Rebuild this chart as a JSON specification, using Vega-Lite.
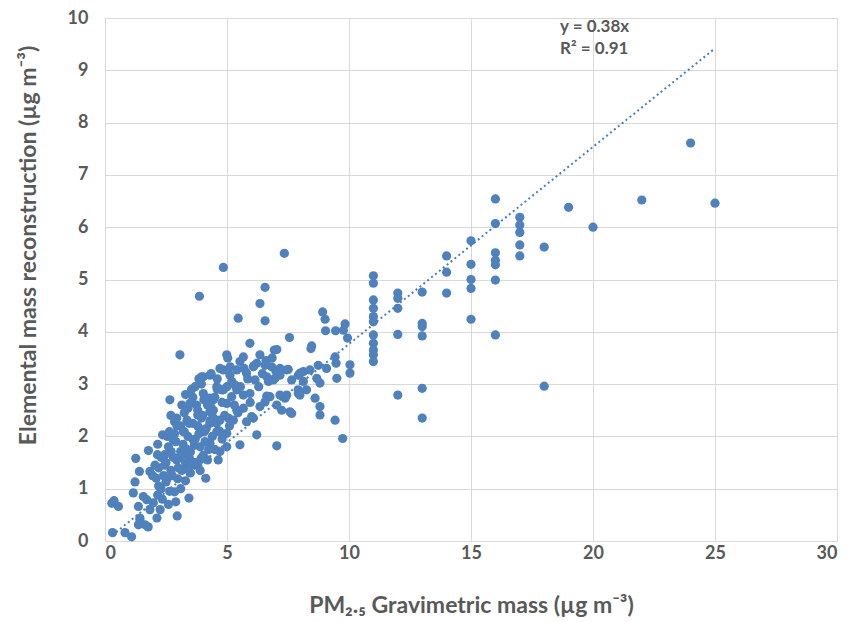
{
  "$schema": "https://vega.github.io/schema/vega-lite/v6.json",
  "width": 732,
  "height": 523,
  "autosize": {"type": "none"},
  "padding": {"left": 105, "top": 18, "right": 15, "bottom": 81},
  "background": "white",
  "config": {"view": {"stroke": "#d9d9d9", "strokeWidth": 1}, "font": "Lato"},
  "datasets": {
    "pts": [
      {"pm":0.31,"em":0.16},{"pm":0.37,"em":0.77},{"pm":0.28,"em":0.72},{"pm":0.55,"em":0.66},{"pm":0.82,"em":0.16},{"pm":1.09,"em":0.08},
      {"pm":1.16,"em":0.92},{"pm":1.23,"em":1.13},{"pm":1.26,"em":1.58},{"pm":1.41,"em":1.33},{"pm":1.43,"em":0.40},{"pm":1.37,"em":0.31},
      {"pm":1.57,"em":0.85},{"pm":1.37,"em":0.66},{"pm":1.71,"em":0.79},{"pm":1.78,"em":1.73},{"pm":1.77,"em":0.27},{"pm":1.84,"em":1.33},
      {"pm":1.98,"em":0.73},{"pm":2.26,"em":0.60},{"pm":2.13,"em":0.44},{"pm":1.43,"em":0.44},{"pm":1.64,"em":0.31},{"pm":1.84,"em":0.60},
      {"pm":2.16,"em":0.88},{"pm":2.16,"em":1.85},{"pm":2.36,"em":2.03},{"pm":2.66,"em":2.70},{"pm":2.96,"em":0.48},{"pm":3.44,"em":0.82},
      {"pm":4.13,"em":1.20},{"pm":2.30,"em":1.00},{"pm":2.50,"em":1.13},{"pm":2.85,"em":0.94},{"pm":2.98,"em":1.19},{"pm":2.44,"em":1.45},
      {"pm":2.71,"em":1.71},{"pm":2.64,"em":2.09},{"pm":2.85,"em":2.28},{"pm":3.40,"em":2.54},{"pm":3.80,"em":2.41},{"pm":3.25,"em":2.09},
      {"pm":3.66,"em":1.83},{"pm":4.07,"em":2.09},{"pm":3.46,"em":1.58},{"pm":3.94,"em":1.58},{"pm":3.25,"em":1.38},{"pm":3.80,"em":1.45},
      {"pm":3.10,"em":1.71},
      {"pm":3.07,"em":3.56},{"pm":5.94,"em":3.78},{"pm":4.99,"em":3.56},{"pm":5.13,"em":3.33},{"pm":5.53,"em":3.43},{"pm":6.08,"em":3.33},
      {"pm":4.85,"em":3.27},{"pm":4.03,"em":3.14},{"pm":4.30,"em":3.17},{"pm":3.69,"em":2.95},{"pm":4.78,"em":2.89},{"pm":5.33,"em":2.98},
      {"pm":5.19,"em":2.76},{"pm":5.94,"em":2.82},{"pm":5.67,"em":2.54},{"pm":5.40,"em":2.50},{"pm":6.08,"em":2.35},{"pm":4.03,"em":2.82},
      {"pm":3.48,"em":2.63},{"pm":4.44,"em":2.70},{"pm":3.80,"em":2.50},{"pm":4.30,"em":2.47},{"pm":3.36,"em":2.31},{"pm":2.94,"em":2.35},
      {"pm":5.06,"em":2.35},{"pm":4.58,"em":2.25},{"pm":4.03,"em":2.12},{"pm":3.21,"em":2.09},{"pm":4.85,"em":2.03},{"pm":2.80,"em":1.93},
      {"pm":3.62,"em":1.93},{"pm":4.30,"em":1.87},{"pm":4.99,"em":1.80},{"pm":5.53,"em":1.84},{"pm":3.21,"em":1.67},{"pm":4.03,"em":1.64},
      {"pm":4.64,"em":1.55},{"pm":2.94,"em":1.55},{"pm":3.62,"em":1.49},{"pm":4.71,"em":1.71},
      {"pm":5.46,"em":4.26},{"pm":6.56,"em":4.21},{"pm":7.56,"em":3.89},{"pm":6.94,"em":3.65},{"pm":8.47,"em":3.73},{"pm":5.67,"em":3.52},
      {"pm":6.35,"em":3.56},{"pm":6.56,"em":3.36},{"pm":6.83,"em":3.33},{"pm":6.22,"em":3.40},{"pm":5.40,"em":3.27},{"pm":4.71,"em":3.30},
      {"pm":7.45,"em":3.27},{"pm":8.00,"em":3.21},{"pm":8.40,"em":3.27},{"pm":7.17,"em":3.17},{"pm":5.12,"em":3.17},{"pm":5.80,"em":3.21},
      {"pm":6.15,"em":3.08},{"pm":6.90,"em":3.08},{"pm":7.65,"em":3.08},{"pm":8.13,"em":3.05},{"pm":8.74,"em":3.36},{"pm":8.81,"em":3.02},
      {"pm":4.58,"em":2.95},{"pm":5.40,"em":2.89},{"pm":4.85,"em":2.89},{"pm":5.67,"em":2.79},{"pm":7.92,"em":2.89},{"pm":8.26,"em":2.89},
      {"pm":7.99,"em":2.79},{"pm":6.76,"em":2.76},{"pm":7.17,"em":2.79},{"pm":7.38,"em":2.73},{"pm":6.56,"em":2.66},{"pm":6.35,"em":2.57},
      {"pm":7.04,"em":2.60},{"pm":6.01,"em":2.38},{"pm":7.58,"em":2.47},{"pm":4.99,"em":2.63},{"pm":4.30,"em":2.73},{"pm":4.44,"em":2.50},
      {"pm":5.26,"em":2.31},{"pm":4.71,"em":2.31},{"pm":5.80,"em":2.28},{"pm":4.30,"em":2.25},{"pm":4.99,"em":2.06},{"pm":6.22,"em":2.03},
      {"pm":4.58,"em":2.09},
      {"pm":7.35,"em":5.50},{"pm":4.85,"em":5.23},{"pm":6.56,"em":4.85},{"pm":3.87,"em":4.68},{"pm":6.35,"em":4.54},{"pm":8.92,"em":4.38},
      {"pm":9.02,"em":4.24},{"pm":9.04,"em":4.02},{"pm":9.45,"em":4.02},{"pm":9.84,"em":4.15},{"pm":9.77,"em":4.03},{"pm":9.94,"em":3.88},
      {"pm":7.04,"em":3.66},{"pm":7.17,"em":3.30},{"pm":7.51,"em":3.28},{"pm":8.13,"em":3.24},{"pm":9.43,"em":3.52},{"pm":9.47,"em":3.40},
      {"pm":10.04,"em":3.37},{"pm":10.04,"em":3.21},{"pm":3.96,"em":3.14},{"pm":6.63,"em":3.14},{"pm":6.97,"em":3.11},{"pm":7.92,"em":3.17},
      {"pm":8.68,"em":3.11},{"pm":9.08,"em":3.30},{"pm":9.50,"em":3.11},{"pm":7.92,"em":2.82},{"pm":6.63,"em":2.77},{"pm":7.45,"em":2.79},
      {"pm":8.61,"em":2.73},{"pm":8.81,"em":2.57},{"pm":8.81,"em":2.41},{"pm":9.43,"em":2.31},{"pm":9.74,"em":1.96},{"pm":7.65,"em":2.44},
      {"pm":7.24,"em":2.50},{"pm":7.04,"em":1.82},{"pm":8.44,"em":3.68},{"pm":5.03,"em":3.50},
      {"pm":11,"em":5.07},{"pm":11,"em":4.93},{"pm":11,"em":4.61},{"pm":11,"em":4.45},{"pm":11,"em":4.29},{"pm":11,"em":4.19},
      {"pm":11,"em":3.94},{"pm":11,"em":3.78},{"pm":11,"em":3.65},{"pm":11,"em":3.56},{"pm":11,"em":3.43},
      {"pm":12,"em":4.74},{"pm":12,"em":4.64},{"pm":12,"em":4.45},{"pm":12,"em":3.95},{"pm":12,"em":2.79},
      {"pm":13,"em":4.76},{"pm":13,"em":4.16},{"pm":13,"em":3.92},{"pm":13,"em":2.92},{"pm":13,"em":2.35},{"pm":13,"em":4.10},
      {"pm":14,"em":5.45},{"pm":14,"em":5.14},{"pm":14,"em":4.74},
      {"pm":15,"em":5.74},{"pm":15,"em":5.29},{"pm":15,"em":5.00},{"pm":15,"em":4.83},{"pm":15,"em":4.24},
      {"pm":16,"em":6.54},{"pm":16,"em":6.07},{"pm":16,"em":5.51},{"pm":16,"em":5.37},{"pm":16,"em":5.28},{"pm":16,"em":4.99},{"pm":16,"em":3.94},
      {"pm":17,"em":6.19},{"pm":17,"em":6.04},{"pm":17,"em":5.90},{"pm":17,"em":5.66},{"pm":17,"em":5.45},
      {"pm":18,"em":5.62},{"pm":18,"em":2.96},{"pm":19,"em":6.38},{"pm":20,"em":6.00},{"pm":22,"em":6.52},{"pm":24,"em":7.61},{"pm":25,"em":6.46},
      {"pm":2.10,"em":1.20},{"pm":2.20,"em":1.40},{"pm":2.30,"em":1.60},{"pm":2.40,"em":1.25},{"pm":2.50,"em":1.50},{"pm":2.60,"em":1.80},
      {"pm":2.70,"em":1.35},{"pm":2.80,"em":1.60},{"pm":2.90,"em":1.90},{"pm":3.00,"em":1.40},{"pm":3.10,"em":2.20},{"pm":3.20,"em":1.85},
      {"pm":3.30,"em":1.50},{"pm":3.40,"em":2.00},{"pm":3.50,"em":1.70},{"pm":3.60,"em":2.25},{"pm":3.70,"em":1.95},{"pm":3.80,"em":2.20},
      {"pm":3.90,"em":1.80},{"pm":4.00,"em":2.40},{"pm":4.10,"em":1.90},{"pm":4.20,"em":2.60},{"pm":4.30,"em":2.30},{"pm":4.40,"em":2.00},
      {"pm":4.50,"em":2.75},{"pm":2.20,"em":1.05},{"pm":2.55,"em":1.20},{"pm":2.65,"em":0.95},{"pm":2.75,"em":1.25},{"pm":3.05,"em":1.60},
      {"pm":3.15,"em":1.35},{"pm":3.35,"em":1.75},{"pm":3.45,"em":2.25},{"pm":3.55,"em":1.45},{"pm":3.75,"em":2.60},{"pm":3.85,"em":2.05},
      {"pm":3.95,"em":2.35},{"pm":4.05,"em":2.70},{"pm":4.15,"em":2.15},{"pm":4.25,"em":1.75},{"pm":4.35,"em":2.55},{"pm":4.45,"em":2.35},
      {"pm":4.60,"em":2.90},{"pm":4.70,"em":2.10},{"pm":4.80,"em":2.65},{"pm":4.90,"em":2.40},{"pm":5.00,"em":2.95},{"pm":5.10,"em":2.20},
      {"pm":5.20,"em":3.05},{"pm":5.30,"em":2.60},{"pm":5.45,"em":2.45},{"pm":5.55,"em":2.95},{"pm":5.70,"em":3.30},{"pm":5.85,"em":3.10},
      {"pm":5.95,"em":2.65},{"pm":6.10,"em":3.35},{"pm":6.30,"em":2.95},{"pm":6.45,"em":3.20},{"pm":6.60,"em":3.45},{"pm":6.70,"em":3.05},
      {"pm":6.85,"em":3.50},{"pm":7.00,"em":3.25},{"pm":2.45,"em":1.65},{"pm":2.85,"em":2.05},{"pm":3.25,"em":2.45},{"pm":3.60,"em":2.75},
      {"pm":1.95,"em":1.25},{"pm":2.05,"em":1.45},{"pm":2.35,"em":0.80},{"pm":2.60,"em":0.70},{"pm":2.90,"em":0.75},{"pm":3.10,"em":1.00},
      {"pm":3.30,"em":1.15},{"pm":3.50,"em":1.30},{"pm":3.70,"em":1.50},{"pm":3.90,"em":1.35},{"pm":4.20,"em":1.55},{"pm":4.50,"em":1.75},
      {"pm":4.80,"em":1.95},{"pm":2.15,"em":1.65},{"pm":2.55,"em":2.00},{"pm":2.95,"em":2.20},{"pm":3.15,"em":2.60},{"pm":3.55,"em":2.90},
      {"pm":3.95,"em":3.00},{"pm":4.35,"em":3.20},{"pm":4.60,"em":3.10},{"pm":2.70,"em":2.40},{"pm":3.30,"em":2.80},{"pm":3.85,"em":3.10}
    ],
    "trend": [{"pm": 0.3, "em": 0.11}, {"pm": 25, "em": 9.42}],
    "eq": [{"pm": 18.65, "em": 9.83, "t": "y = 0.38x"}, {"pm": 18.65, "em": 9.40, "t": "R² = 0.91"}]
  },
  "layer": [
    {
      "data": {"name": "pts"},
      "mark": {"type": "circle", "size": 85, "color": "#4f81bd", "opacity": 1},
      "encoding": {
        "x": {
          "field": "pm", "type": "quantitative",
          "scale": {"domain": [0, 30], "nice": false, "zero": true},
          "axis": {
            "values": [0, 5, 10, 15, 20, 25, 30],
            "grid": true, "gridColor": "#d9d9d9", "domainColor": "#d9d9d9", "ticks": false,
            "labelFontSize": 18, "labelFontWeight": "bold", "labelColor": "#595959", "labelPadding": 3,
            "title": "PM₂.₅ Gravimetric mass (µg m⁻³)",
            "titleFontSize": 23, "titleFontWeight": "bold", "titleColor": "#595959",
            "titleBaseline": "middle", "titleY": 64
          }
        },
        "y": {
          "field": "em", "type": "quantitative",
          "scale": {"domain": [0, 10], "nice": false},
          "axis": {
            "values": [0, 1, 2, 3, 4, 5, 6, 7, 8, 9, 10],
            "grid": true, "gridColor": "#d9d9d9", "domainColor": "#d9d9d9", "ticks": false,
            "labelFontSize": 18, "labelFontWeight": "bold", "labelColor": "#595959", "labelPadding": 17,
            "title": "Elemental mass reconstruction  (µg m⁻³)",
            "titleFontSize": 23, "titleFontWeight": "bold", "titleColor": "#595959",
            "titleBaseline": "middle", "titleAlign": "center", "titleX": -77, "titleY": 227
          }
        }
      }
    },
    {
      "data": {"name": "trend"},
      "mark": {"type": "line", "strokeDash": [2, 3], "strokeWidth": 2, "color": "#4a7ebb"},
      "encoding": {
        "x": {"field": "pm", "type": "quantitative"},
        "y": {"field": "em", "type": "quantitative"}
      }
    },
    {
      "data": {"name": "eq"},
      "mark": {"type": "text", "align": "left", "baseline": "middle", "fontSize": 17, "fontWeight": "bold", "color": "#595959"},
      "encoding": {
        "x": {"field": "pm", "type": "quantitative"},
        "y": {"field": "em", "type": "quantitative"},
        "text": {"field": "t"}
      }
    }
  ]
}
